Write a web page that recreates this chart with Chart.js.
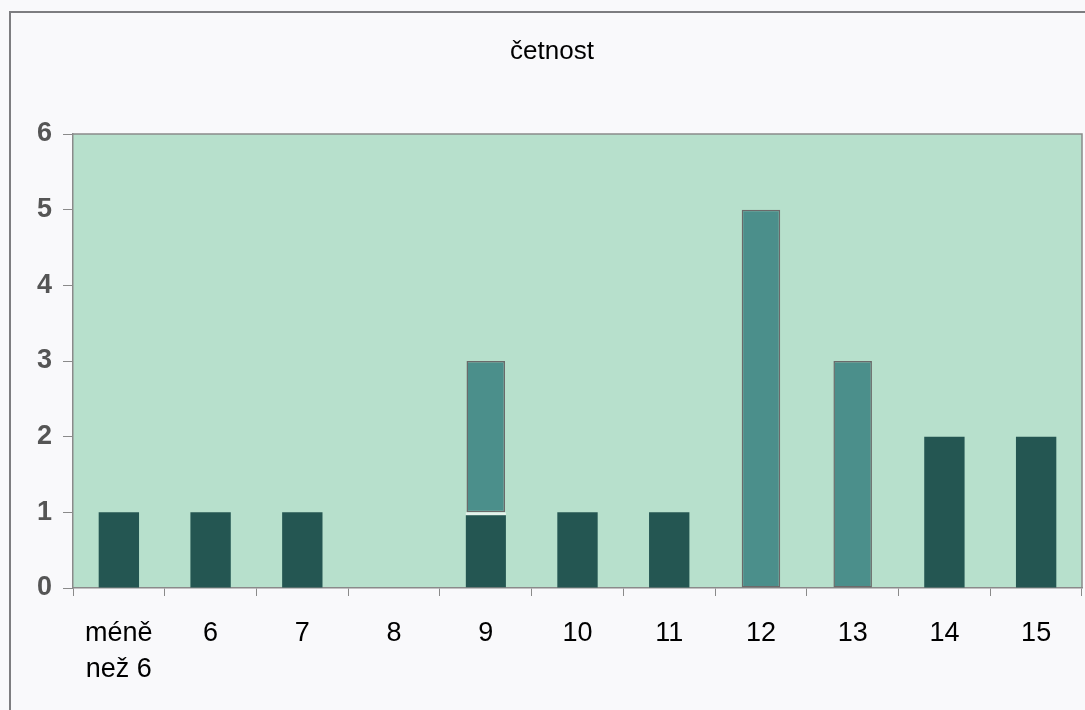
<!DOCTYPE html>
<html lang="cs">
<head>
<meta charset="utf-8">
<title>četnost</title>
<script src="https://cdn.jsdelivr.net/npm/chart.js@4/dist/chart.umd.min.js"></script>
<style>
  html, body { margin: 0; padding: 0; background: #f9f9fb; }
  #wrap { width: 1085px; height: 710px; }
</style>
</head>
<body>
<div id="wrap"><canvas id="c" width="1085" height="710"></canvas></div>
<script>
// Categories (grade groups) and counts
const kategorie = [['méně', 'než 6'], '6', '7', '8', '9', '10', '11', '12', '13', '14', '15'];
// dark part of each column
const tmave = [1, 1, 1, 0, 1, 1, 1, 0, 0, 2, 2];
// lighter teal part stacked on top
const svetle = [0, 0, 0, 0, 2, 0, 0, 5, 3, 0, 0];
const osaY = [0, 1, 2, 3, 4, 5, 6];
const nadpis = 'četnost';

const DARK = '#245652';
const TEAL = '#4b8f8b';
const AXIS = '#8a8a8a';
const FONT = 'Liberation Sans, Arial, sans-serif';

const framePlugin = {
  id: 'frame',
  beforeDraw(chart) {
    const { ctx, chartArea: a } = chart;
    ctx.save();
    ctx.fillStyle = '#f9f9fb';
    ctx.fillRect(0, 0, chart.width, chart.height);
    // outer frame
    ctx.strokeStyle = '#7d7d80';
    ctx.lineWidth = 2;
    ctx.beginPath();
    ctx.moveTo(10, 710);
    ctx.lineTo(10, 12);
    ctx.lineTo(1085, 12);
    ctx.stroke();
    // plot background
    ctx.fillStyle = '#b7e0cc';
    ctx.fillRect(a.left, a.top, a.right - a.left, a.bottom - a.top);
    // chart title
    ctx.fillStyle = '#000';
    ctx.font = '26px ' + FONT;
    ctx.textAlign = 'center';
    ctx.textBaseline = 'middle';
    ctx.fillText(nadpis, 552, 52);
    ctx.restore();
  },
  afterDatasetsDraw(chart) {
    const { ctx, chartArea: a } = chart;
    ctx.save();
    ctx.strokeStyle = AXIS;
    ctx.lineWidth = 1.5;
    ctx.beginPath();
    ctx.moveTo(a.left, a.top);
    ctx.lineTo(a.right, a.top);
    ctx.lineTo(a.right, a.bottom);
    ctx.stroke();
    ctx.restore();
  }
};

new Chart(document.getElementById('c'), {
  type: 'bar',
  data: {
    labels: kategorie,
    datasets: [
      {
        label: nadpis,
        data: tmave,
        backgroundColor: DARK,
        borderColor: tmave.map((v, i) => svetle[i] > 0 ? '#e6f3ec' : DARK),
        borderWidth: tmave.map((v, i) => svetle[i] > 0 ? { top: 3, left: 0, right: 0, bottom: 0 } : 0),
        borderSkipped: false,
        barPercentage: 0.44,
        categoryPercentage: 1
      },
      {
        label: nadpis + ' ',
        data: svetle,
        backgroundColor: TEAL,
        borderColor: '#6a6a6a',
        borderWidth: 1.5,
        borderSkipped: false,
        barPercentage: 0.42,
        categoryPercentage: 1
      }
    ]
  },
  options: {
    responsive: false,
    animation: false,
    devicePixelRatio: 1,
    layout: { padding: { left: 0, right: 3, top: 134, bottom: 0 } },
    plugins: {
      legend: { display: false },
      tooltip: { enabled: false },
      title: { display: false }
    },
    scales: {
      x: {
        stacked: true,
        offset: true,
        grid: {
          offset: true,
          drawOnChartArea: false,
          drawTicks: true,
          tickLength: 8,
          color: AXIS
        },
        border: { color: AXIS, width: 1.5 },
        ticks: {
          color: '#000',
          padding: 19,
          maxRotation: 0,
          autoSkip: false,
          font: { family: FONT, size: 27, lineHeight: 1.35 }
        },
        afterFit(scale) { scale.height = 122; }
      },
      y: {
        stacked: true,
        min: 0,
        max: 6,
        afterBuildTicks(scale) { scale.ticks = osaY.map(v => ({ value: v })); },
        grid: {
          drawOnChartArea: false,
          drawTicks: true,
          tickLength: 10,
          color: AXIS
        },
        border: { color: AXIS, width: 1.5 },
        ticks: {
          color: '#555555',
          padding: 11,
          font: { family: FONT, size: 27, weight: 'bold' }
        },
        afterFit(scale) { scale.width = 73; }
      }
    }
  },
  plugins: [framePlugin]
});
</script>
</body>
</html>
